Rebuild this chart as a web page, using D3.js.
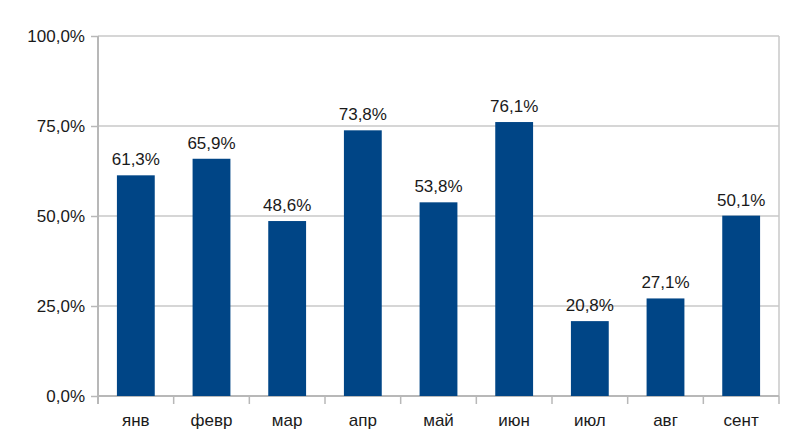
<!DOCTYPE html>
<html><head><meta charset="utf-8">
<script src="https://cdn.jsdelivr.net/npm/d3@7"></script>
<style>body{margin:0;background:#fff}svg{display:block}</style>
</head><body><svg id="c" width="800" height="447"></svg>
<script>
const categories = ["янв","февр","мар","апр","май","июн","июл","авг","сент"];
const values = [61.3, 65.9, 48.6, 73.8, 53.8, 76.1, 20.8, 27.1, 50.1];
const yTicks = [0, 25, 50, 75, 100];

const svg = d3.select("#c");
const L = 98, R = 779, T = 36, B = 396;
const font = "'Liberation Sans', Arial, sans-serif";
const x = d3.scaleBand().domain(categories).range([L, R]).paddingInner(0.5).paddingOuter(0.25);
const y = d3.scaleLinear().domain([0, 100]).range([B, T]);
const fmt = v => v.toFixed(1).replace(".", ",") + "%";

// gridlines
svg.append("g").selectAll("line").data(yTicks).join("line")
  .attr("x1", L).attr("x2", R).attr("y1", d => y(d)).attr("y2", d => y(d))
  .attr("stroke", "#c8c8c8").attr("stroke-width", 1.5);
// right border
svg.append("line").attr("x1", R).attr("x2", R).attr("y1", T).attr("y2", B)
  .attr("stroke", "#c8c8c8").attr("stroke-width", 1.5);

// y axis
const ya = svg.append("g").attr("transform", `translate(${L},0)`)
  .call(d3.axisLeft(y).tickValues(yTicks).tickFormat(fmt).tickSize(7).tickPadding(6));
ya.select(".domain").attr("stroke", "#b8b8b8").attr("stroke-width", 2).attr("d", `M0,${T}V${B+8}`);
ya.selectAll(".tick line").attr("stroke", "#b8b8b8").attr("stroke-width", 1.5);
ya.selectAll("text").attr("font-family", font).attr("font-size", 17).attr("fill", "#1a1a1a");

// x axis
const xa = svg.append("g").attr("transform", `translate(0,${B})`)
  .call(d3.axisBottom(x).tickSize(0).tickPadding(18));
xa.select(".domain").attr("stroke", "#b8b8b8").attr("stroke-width", 2).attr("d", `M${L},0H${R}`);
xa.selectAll("text").attr("font-family", font).attr("font-size", 17).attr("fill", "#1a1a1a");
// category separator ticks
const bounds = categories.map((c, i) => L + (R - L) * (i + 1) / categories.length);
svg.append("g").selectAll("line").data(bounds).join("line")
  .attr("x1", d => d).attr("x2", d => d).attr("y1", B).attr("y2", B + 8)
  .attr("stroke", "#b8b8b8").attr("stroke-width", 1.5);

// bars
svg.append("g").selectAll("rect").data(values).join("rect")
  .attr("x", (d, i) => x(categories[i])).attr("width", x.bandwidth())
  .attr("y", d => y(d)).attr("height", d => B - y(d))
  .attr("fill", "#004586");

// value labels
svg.append("g").selectAll("text").data(values).join("text")
  .attr("x", (d, i) => x(categories[i]) + x.bandwidth() / 2)
  .attr("y", d => y(d) - 10)
  .attr("text-anchor", "middle").attr("font-family", font).attr("font-size", 17)
  .attr("fill", "#1a1a1a").text(fmt);
</script></body></html>
